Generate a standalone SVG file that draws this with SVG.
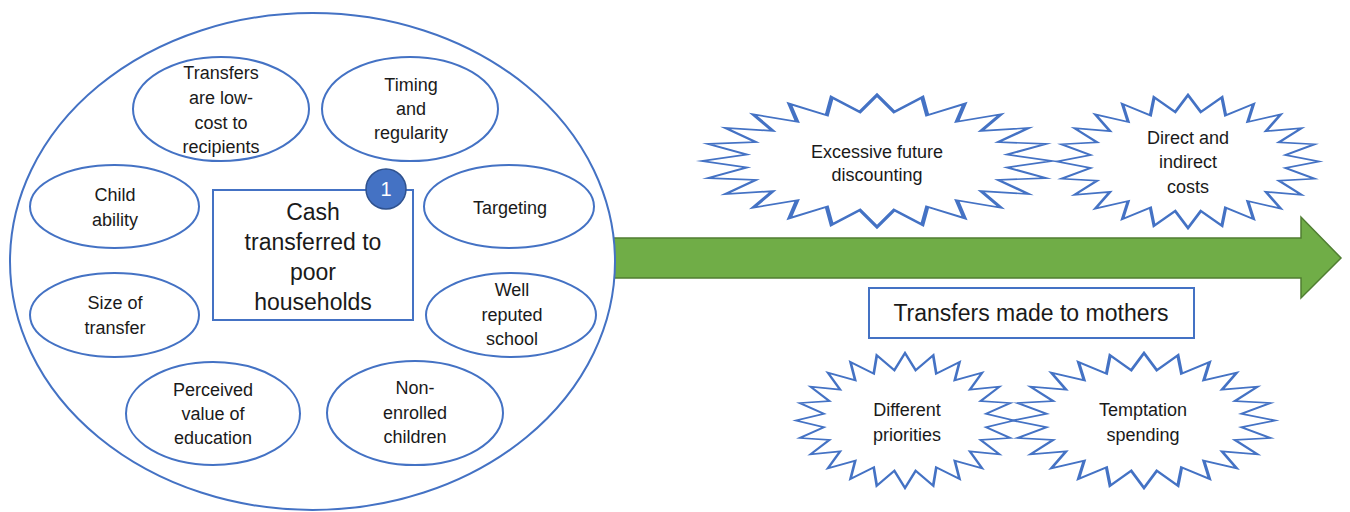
<svg xmlns="http://www.w3.org/2000/svg" xmlns:xlink="http://www.w3.org/1999/xlink" width="1350" height="512" viewBox="0 0 1350 512">
<style>
.sh{fill:#fff;stroke:#4472C4;stroke-width:2}
.st{fill:#fff;stroke:#4472C4;stroke-width:2.5;vector-effect:non-scaling-stroke}
text{font-family:"Liberation Sans",Arial,sans-serif;fill:#1a1a1a;text-anchor:middle}
.t18{font-size:18px}
.t23{font-size:23px}
</style>
<defs>
<polygon id="star24" points="100,0 74.36,9.79 96.59,25.88 69.29,28.7 86.6,50 59.5,45.66 70.71,70.71 45.66,59.5 50,86.6 28.7,69.29 25.88,96.59 9.79,74.36 0,100 -9.79,74.36 -25.88,96.59 -28.7,69.29 -50,86.6 -45.66,59.5 -70.71,70.71 -59.5,45.66 -86.6,50 -69.29,28.7 -96.59,25.88 -74.36,9.79 -100,0 -74.36,-9.79 -96.59,-25.88 -69.29,-28.7 -86.6,-50 -59.5,-45.66 -70.71,-70.71 -45.66,-59.5 -50,-86.6 -28.7,-69.29 -25.88,-96.59 -9.79,-74.36 0,-100 9.79,-74.36 25.88,-96.59 28.7,-69.29 50,-86.6 45.66,-59.5 70.71,-70.71 59.5,-45.66 86.6,-50 69.29,-28.7 96.59,-25.88 74.36,-9.79"/>
</defs>
<rect width="1350" height="512" fill="#fff"/>
<g id="connectors">
<polygon points="612,238 1301,238 1301,217 1341,258 1301,298 1301,278 612,278" fill="#70AD47" stroke="#507E32" stroke-width="1.5"/>
</g>
<g id="outer"><ellipse class="sh" cx="312.5" cy="261.5" rx="302.5" ry="248.5"/></g>
<g id="n-lowcost"><ellipse class="sh" cx="221" cy="109" rx="88" ry="52"/>
<text class="t18"><tspan x="221" y="79">Transfers</tspan><tspan x="221" y="104">are low-</tspan><tspan x="221" y="129">cost to</tspan><tspan x="221" y="153">recipients</tspan></text></g>
<g id="n-timing"><ellipse class="sh" cx="410" cy="109" rx="88" ry="52"/>
<text class="t18"><tspan x="411" y="91">Timing</tspan><tspan x="411" y="115">and</tspan><tspan x="411" y="139">regularity</tspan></text></g>
<g id="n-child"><ellipse class="sh" cx="114.5" cy="206.5" rx="84.5" ry="41.5"/>
<text class="t18"><tspan x="115" y="201">Child</tspan><tspan x="115" y="226">ability</tspan></text></g>
<g id="n-targeting"><ellipse class="sh" cx="509" cy="206.5" rx="85" ry="41.5"/>
<text class="t18"><tspan x="510" y="214">Targeting</tspan></text></g>
<g id="n-size"><ellipse class="sh" cx="114.5" cy="315" rx="84.5" ry="42"/>
<text class="t18"><tspan x="115" y="309">Size of</tspan><tspan x="115" y="334">transfer</tspan></text></g>
<g id="n-school"><ellipse class="sh" cx="511" cy="315" rx="85" ry="42"/>
<text class="t18"><tspan x="512" y="296">Well</tspan><tspan x="512" y="321">reputed</tspan><tspan x="512" y="345">school</tspan></text></g>
<g id="n-perceived"><ellipse class="sh" cx="213" cy="413.5" rx="87" ry="51.5"/>
<text class="t18"><tspan x="213" y="396">Perceived</tspan><tspan x="213" y="420">value of</tspan><tspan x="213" y="444">education</tspan></text></g>
<g id="n-nonenrolled"><ellipse class="sh" cx="415" cy="413" rx="88" ry="52"/>
<text class="t18"><tspan x="415" y="394">Non-</tspan><tspan x="415" y="419">enrolled</tspan><tspan x="415" y="443">children</tspan></text></g>
<g id="n-cash"><rect class="sh" x="213" y="190" width="200" height="130"/>
<text class="t23"><tspan x="313" y="220">Cash</tspan><tspan x="313" y="250">transferred to</tspan><tspan x="313" y="280">poor</tspan><tspan x="313" y="310">households</tspan></text></g>
<g id="badge"><circle cx="386" cy="189" r="20" fill="#4472C4" stroke="#2F528F" stroke-width="1.5"/>
<text x="386" y="196" style="font-size:20px;fill:#fff">1</text></g>
<g id="n-mothers"><rect class="sh" x="869" y="288" width="325" height="50"/>
<text class="t23"><tspan x="1031" y="321">Transfers made to mothers</tspan></text></g>
<g id="s-discount"><use xlink:href="#star24" href="#star24" class="st" transform="translate(877,161) scale(1.75,0.66)"/>
<text class="t18"><tspan x="877" y="158">Excessive future</tspan><tspan x="877" y="181">discounting</tspan></text></g>
<g id="s-costs"><use xlink:href="#star24" href="#star24" class="st" transform="translate(1188,161.5) scale(1.31,0.665)"/>
<text class="t18"><tspan x="1188" y="144">Direct and</tspan><tspan x="1188" y="168">indirect</tspan><tspan x="1188" y="193">costs</tspan></text></g>
<g id="s-priorities"><use xlink:href="#star24" href="#star24" class="st" transform="translate(905,420.5) scale(1.09,0.675)"/>
<text class="t18"><tspan x="907" y="416">Different</tspan><tspan x="907" y="441">priorities</tspan></text></g>
<g id="s-temptation"><use xlink:href="#star24" href="#star24" class="st" transform="translate(1144,420.5) scale(1.31,0.675)"/>
<text class="t18"><tspan x="1143" y="416">Temptation</tspan><tspan x="1143" y="441">spending</tspan></text></g>
</svg>
